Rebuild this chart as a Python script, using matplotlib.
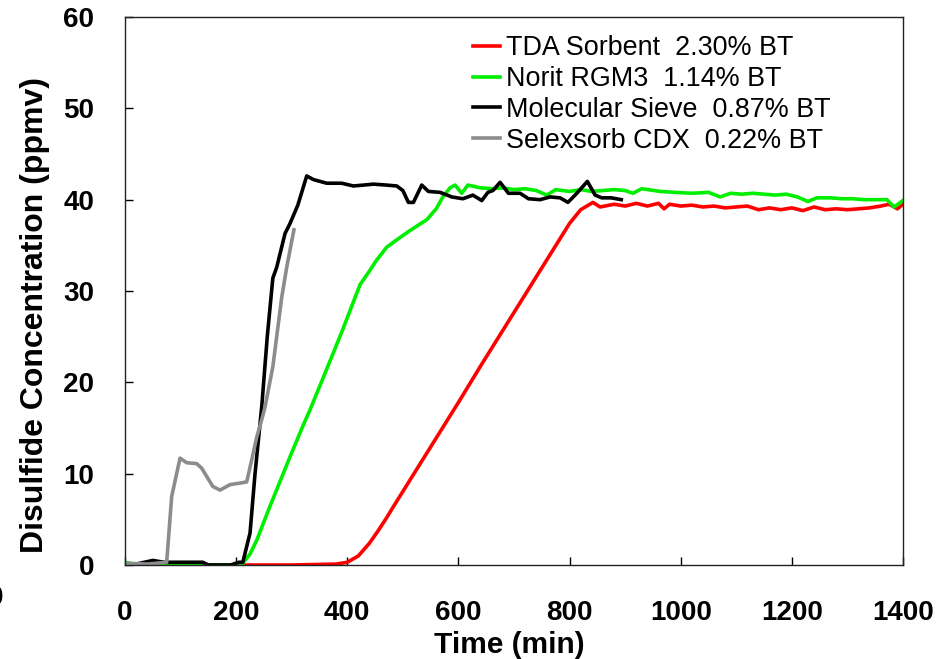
# Disulfide breakthrough curves for four sorbents.

import matplotlib
matplotlib.use("Agg")
import matplotlib.pyplot as plt

tda_time = [0, 100, 200, 300, 380, 400, 420, 440, 455, 470, 480, 520, 560, 600, 640, 680, 720, 760, 800,
            820, 842, 855, 880, 900, 920, 940, 960, 970, 980, 1000, 1020, 1040, 1060, 1080, 1100, 1120,
            1140, 1160, 1180, 1200, 1220, 1240, 1260, 1280, 1300, 1320, 1340, 1360, 1375, 1390, 1400]
tda_conc = [0, 0, 0, 0, 0.1, 0.3, 1.0, 2.4, 3.7, 5.1, 6.1, 10.0, 13.9, 17.8, 21.8, 25.7, 29.6, 33.5, 37.4,
            38.9, 39.7, 39.2, 39.5, 39.3, 39.6, 39.3, 39.6, 39.0, 39.5, 39.3, 39.4, 39.2, 39.3, 39.1, 39.2, 39.3,
            38.9, 39.1, 38.9, 39.1, 38.8, 39.2, 38.9, 39.0, 38.9, 39.0, 39.1, 39.3, 39.5, 39.0, 39.5]

norit_time = [0, 15, 50, 100, 150, 200, 212, 225, 237, 260, 280, 300, 320, 333, 360, 390, 423, 440, 453,
              471, 489, 510, 530, 543, 560, 572, 585, 594, 606, 617, 639, 660, 680, 700, 720, 740, 759, 775,
              800, 820, 840, 860, 880, 900, 914, 930, 963, 990, 1020, 1050, 1071, 1090, 1110, 1130, 1150,
              1170, 1190, 1210, 1229, 1245, 1270, 1290, 1310, 1330, 1350, 1371, 1384, 1400]
norit_conc = [0.3, 0.1, 0, 0, 0, 0, 0.2, 1.2, 2.7, 6.3, 9.3, 12.3, 15.2, 17.0, 21.0, 25.5, 30.7, 32.2, 33.4,
              34.8, 35.6, 36.5, 37.3, 37.8, 39.0, 40.3, 41.3, 41.6, 40.7, 41.6, 41.3, 41.2, 41.3, 41.1, 41.2,
              41.0, 40.5, 41.1, 40.9, 41.1, 40.9, 41.0, 41.1, 41.0, 40.7, 41.2, 40.9, 40.8, 40.7, 40.8, 40.3,
              40.7, 40.6, 40.7, 40.6, 40.5, 40.6, 40.3, 39.8, 40.2, 40.2, 40.1, 40.1, 40.0, 40.0, 40.0, 39.2, 39.9]

sieve_time = [0, 20, 50, 70, 100, 140, 150, 190, 205, 212, 225, 234, 246, 256, 266, 273, 288, 297, 311,
              327, 339, 363, 390, 411, 430, 447, 470, 489, 500, 510, 519, 534, 546, 567, 588, 608, 626, 642,
              653, 662, 675, 690, 711, 726, 747, 765, 783, 797, 813, 832, 846, 858, 875, 893]
sieve_conc = [0.1, 0.1, 0.5, 0.3, 0.3, 0.3, 0, 0, 0.3, 0.3, 3.5, 10.0, 17.3, 25.0, 31.4, 32.6, 36.3, 37.4, 39.4,
              42.6, 42.2, 41.8, 41.8, 41.5, 41.6, 41.7, 41.6, 41.5, 41.0, 39.7, 39.7, 41.6, 40.9, 40.8, 40.3,
              40.1, 40.5, 39.9, 40.8, 41.0, 41.9, 40.7, 40.7, 40.1, 40.0, 40.3, 40.2, 39.7, 40.7, 42.0, 40.5,
              40.2, 40.2, 40.0]

selex_time = [0, 40, 75, 84, 99, 111, 129, 138, 158, 171, 189, 210, 219, 228, 237, 246, 252, 266, 282, 291, 304]
selex_conc = [0.2, 0.1, 0.3, 7.5, 11.7, 11.2, 11.1, 10.6, 8.6, 8.2, 8.8, 9.0, 9.1, 11.5, 14.0, 15.9, 17.3,
              21.7, 29.3, 32.6, 36.7]

labels = ["TDA Sorbent  2.30% BT", "Norit RGM3  1.14% BT", "Molecular Sieve  0.87% BT", "Selexsorb CDX  0.22% BT"]
colors = ["#ff0000", "#00ee00", "#000000", "#8c8c8c"]

plt.rcParams["font.family"] = ["Liberation Sans", "DejaVu Sans"]

fig = plt.figure(figsize=(9.39, 6.59), dpi=100)
ax = fig.add_axes([125 / 939, 1 - 565 / 659, 778 / 939, 548 / 659])

series = [(tda_time, tda_conc), (norit_time, norit_conc), (sieve_time, sieve_conc), (selex_time, selex_conc)]
for (t, c), lab, col in zip(series, labels, colors):
    ax.plot(t, c, color=col, linewidth=2.6, label=lab, solid_joinstyle="round")

ax.set_xlim(0, 1400)
ax.set_ylim(0, 60)
ax.set_xticks(range(0, 1401, 200))
ax.set_yticks(range(0, 61, 10))
ax.tick_params(direction="in", length=6, width=1, color="black")
ax.tick_params(axis="x", pad=25)
ax.tick_params(axis="y", pad=22)
for lbl in ax.get_xticklabels() + ax.get_yticklabels():
    lbl.set_fontweight("bold")
    lbl.set_fontsize(20)
for sp in ax.spines.values():
    sp.set_linewidth(1.0)
    sp.set_color("#222222")

ax.set_xlabel("Time (min)", fontsize=21.5, fontweight="bold", labelpad=4, x=0.494)
ax.set_ylabel("Disulfide Concentration (ppmv)", fontsize=23, fontweight="bold", labelpad=10, y=0.456)

ax.legend(loc="upper left", bbox_to_anchor=(0.447, 0.967), frameon=False, fontsize=19.4,
          handlelength=1.0, handletextpad=0.25, labelspacing=0.18, borderpad=0, borderaxespad=0)

# clipped tick label left over at the far left edge
fig.text(0.004, 1 - 598 / 659, "0", ha="right", va="center", fontsize=20, fontweight="bold")

fig.savefig("out.png", dpi=100)
